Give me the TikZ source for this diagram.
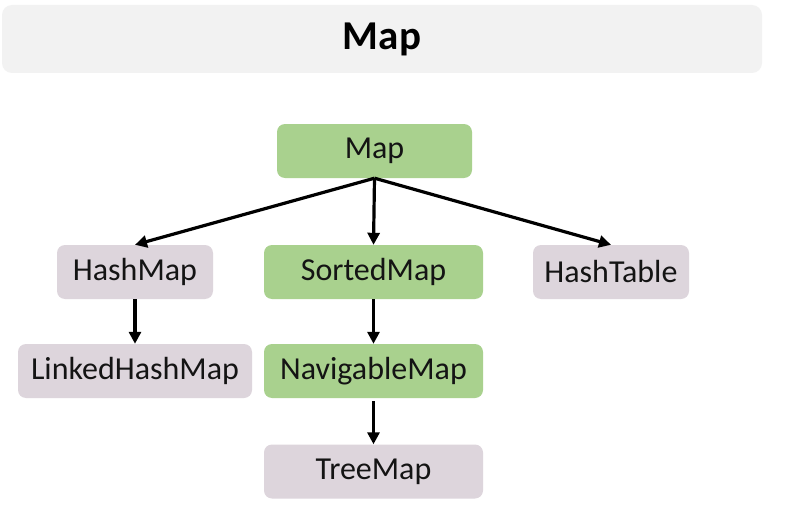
\documentclass[tikz,border=0pt]{standalone}
\usepackage{fontspec}
\setmainfont{Carlito}
\usetikzlibrary{arrows.meta}
\definecolor{nodegreen}{HTML}{A9D18E}
\definecolor{nodegray}{HTML}{DDD5DC}
\definecolor{titlegray}{HTML}{F2F2F2}
\begin{document}
\begin{tikzpicture}[x=1pt,y=-1pt,
  box/.style={rounded corners=8pt,inner sep=0pt,minimum height=54pt,
    font=\fontsize{32}{38}\selectfont,text=black!92},
  greenbox/.style={box,fill=nodegreen},
  graybox/.style={box,fill=nodegray},
  link/.style={line width=3.2pt,-{Triangle[length=12pt,width=12pt]}}]
\fill[white] (0,0) rectangle (804,519);
\useasboundingbox (0,0) rectangle (804,519);
\node[fill=titlegray,rounded corners=10pt,minimum width=760pt,minimum height=68pt,inner sep=0pt,
  font=\fontsize{41}{48}\bfseries\selectfont] (title) at (382,39) {\raisebox{-2pt}{Map}};
\node[greenbox,minimum width=195pt] (map) at (374.5,151) {\raisebox{-2pt}{Map}};
\node[graybox,minimum width=156pt] (hashmap) at (135,272) {\raisebox{-2pt}{HashMap}};
\node[greenbox,minimum width=219pt] (sorted) at (373.5,272) {\raisebox{-2pt}{SortedMap}};
\node[graybox,minimum width=156pt] (hashtable) at (611,272) {\raisebox{-2pt}{HashTable}};
\node[graybox,minimum width=234pt] (linked) at (135,371) {\raisebox{-2pt}{LinkedHashMap}};
\node[greenbox,minimum width=219pt] (navig) at (373.5,371) {\raisebox{-2pt}{NavigableMap}};
\node[graybox,minimum width=219pt] (tree) at (373.5,471.5) {\raisebox{-2pt}{TreeMap}};
\draw[link] (map.south) -- (hashmap.north);
\draw[link] (map.south) -- (sorted.north);
\draw[link] (map.south) -- (hashtable.north);
\draw[link] (hashmap.south) -- (linked.north);
\draw[link] (sorted.south) -- (navig.north);
\draw[link,shorten <=3pt] (navig.south) -- (tree.north);
\end{tikzpicture}
\end{document}
